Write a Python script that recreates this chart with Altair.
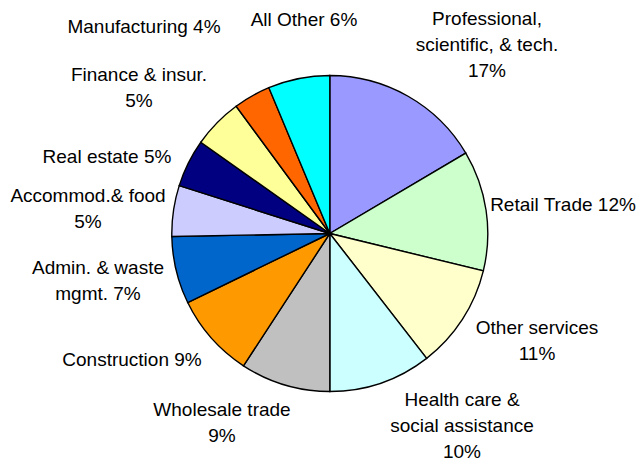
import altair as alt
import pandas as pd

# ---- data ----
sectors = [
    "Professional, scientific, & tech.", "Retail Trade", "Other services",
    "Health care & social assistance", "Wholesale trade", "Construction",
    "Admin. & waste mgmt.", "Accommod.& food", "Real estate",
    "Finance & insur.", "Manufacturing", "All Other",
]
shares = [16.5, 12.3, 10.7, 10.5, 9.2, 8.6, 6.9, 5.2, 4.9, 5.1, 3.8, 6.3]
label_text = [
    "Professional,\nscientific, & tech.\n17%",
    "Retail Trade 12%",
    "Other services\n11%",
    "Health care &\nsocial assistance\n10%",
    "Wholesale trade\n9%",
    "Construction 9%",
    "Admin. &  waste\nmgmt. 7%",
    "Accommod.& food\n5%",
    "Real estate 5%",
    "Finance & insur.\n5%",
    "Manufacturing 4%",
    "All Other 6%",
]
colors = ["#9999FF", "#CCFFCC", "#FFFFCC", "#CCFFFF", "#C0C0C0", "#FF9900",
          "#0066CC", "#CCCCFF", "#000080", "#FFFF99", "#FF6600", "#00FFFF"]

# ---- layout (label anchors in chart pixels: centre of first line) ----
label_x = [479, 555, 529, 454, 214, 124, 90, 80, 99, 131, 136, 296]
label_y = [11, 197, 320, 392, 402, 352, 260, 188, 149, 67, 19, 12]
W, H = 628, 455
CX, CY, R = 321.8, 225.5, 158

df = pd.DataFrame({
    "sector": sectors,
    "share": shares,
    "idx": list(range(len(sectors))),
})
lab = pd.DataFrame({"text": label_text, "lx": label_x, "ly": label_y})

pie = alt.Chart(df).mark_arc(
    radius=R, stroke="black", strokeWidth=1.4
).encode(
    theta=alt.Theta("share:Q", stack=True, scale=alt.Scale(domain=[0, 100])),
    color=alt.Color("sector:N", scale=alt.Scale(domain=sectors, range=colors), legend=None),
    order=alt.Order("idx:Q"),
    x=alt.value(CX),
    y=alt.value(CY),
)

labels = alt.Chart(lab).mark_text(
    font="Liberation Sans", fontSize=19, color="black", align="center",
    baseline="middle", lineBreak="\n", lineHeight=26,
).encode(
    x=alt.X("lx:Q", scale=None),
    y=alt.Y("ly:Q", scale=None),
    text="text:N",
)

chart = alt.layer(pie, labels).properties(
    width=W, height=H, padding=0,
    autosize=alt.AutoSizeParams(type="none"),
).configure_view(stroke=None)

chart.save("out.html", embed_options={"renderer": "svg", "actions": False})
